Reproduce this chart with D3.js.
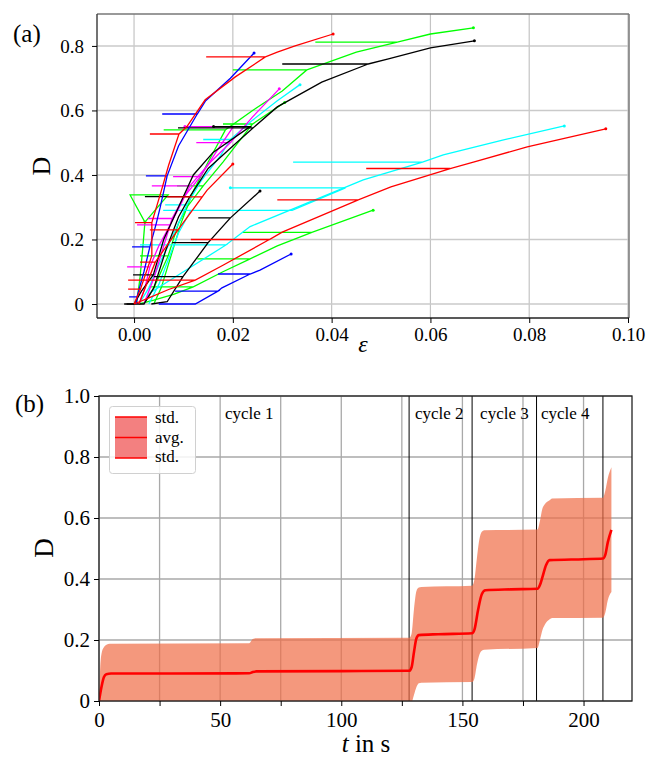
<!DOCTYPE html>
<html>
<head>
<meta charset="utf-8">
<style>
  body { margin: 0; background: #fff; }
  svg { display: block; }
  svg text { font-family: "Liberation Serif", "DejaVu Serif", serif; }
</style>
</head>
<body>
<svg width="646" height="759"></svg>
<script src="https://d3js.org/d3.v7.min.js"></script>
<script>
// ---------- panel (a): D over strain, one polyline per specimen ----------
const s01 = [[0.001,0],[0.004,0.012],[0.008,0.03],[0.012,0.053],[0.003,0.053],[0.012,0.053],[0.018,0.10],[0.0235,0.14],[0.0128,0.14],[0.0235,0.14],[0.029,0.18],[0.036,0.222],[0.022,0.222],[0.036,0.222],[0.0484,0.291]];
const s02 = [[0.004,0],[0.0055,0.05],[0.0075,0.15],[0.0095,0.25],[0.012,0.35],[0.015,0.44],[0.0185,0.54],[0.006,0.54],[0.0185,0.54],[0.024,0.60],[0.030,0.66],[0.035,0.726],[0.020,0.726],[0.035,0.726],[0.045,0.781],[0.0533,0.812],[0.0367,0.812],[0.0533,0.812],[0.060,0.837],[0.0687,0.856]];
const s03 = [[0.002,0],[0.004,0.05],[0.0069,0.149],[0.0012,0.149],[0.0069,0.149],[0.009,0.25],[0.0107,0.30],[0.014,0.366],[0.0087,0.366],[0.014,0.366],[0.018,0.44],[0.024,0.558],[0.018,0.558],[0.024,0.558],[0.0305,0.625]];
const s04 = [[0.0005,0],[0.0012,0.08],[0.0018,0.18],[0.0022,0.254],[-0.0008,0.338],[0.0069,0.338],[0.0022,0.254]];
const s05 = [[0.002,0],[0.0032,0.034],[0.010,0.10],[0.0186,0.183],[0.0012,0.183],[0.0186,0.183],[0.0235,0.24],[0.035,0.313],[0.0464,0.385],[0.0584,0.44],[0.0322,0.44],[0.0584,0.44],[0.0626,0.462],[0.0746,0.508],[0.0871,0.552]];
const s06 = [[0.003,0],[0.005,0.06],[0.007,0.14],[0.009,0.22],[0.0115,0.29],[0.0059,0.29],[0.032,0.29],[0.0428,0.36],[0.0195,0.36]];
const s07 = [[0.001,0],[0.003,0.05],[0.005,0.12],[0.0075,0.2],[0.0107,0.307],[0.0063,0.307],[0.0107,0.307],[0.0135,0.38],[0.0175,0.46],[0.0195,0.51],[0.014,0.51],[0.0195,0.51],[0.024,0.57],[0.029,0.63],[0.0336,0.68]];
const s08 = [[0.001,0],[0.0022,0.05],[0.0032,0.115],[-0.0014,0.115],[0.0032,0.115],[0.005,0.18],[0.0073,0.245],[0.0006,0.245],[0.0073,0.245],[0.0095,0.31],[0.0113,0.366],[0.0036,0.366],[0.0113,0.366],[0.0155,0.44],[0.0195,0.50],[0.0126,0.50],[0.0195,0.50],[0.024,0.58],[0.0294,0.667]];
const s09 = [[0.002,0],[0.004,0.08],[0.006,0.18],[0.0077,0.265],[0.0028,0.265],[0.0077,0.265],[0.010,0.33],[0.0134,0.395],[0.0079,0.395],[0.0134,0.395],[0.017,0.48],[0.0201,0.55],[0.0103,0.55]];
const s10 = [[-0.002,0],[0.002,0],[0.004,0.05],[0.0065,0.17],[0.009,0.27],[0.0113,0.333],[0.0022,0.333],[0.0113,0.333],[0.015,0.42],[0.020,0.49],[0.0241,0.546],[0.0089,0.546],[0.0241,0.546],[0.029,0.611],[0.038,0.688],[0.0474,0.744],[0.030,0.744],[0.0474,0.744],[0.0515,0.76],[0.060,0.794],[0.0689,0.816]];
const s11 = [[0.0035,0],[0.0067,0.007],[0.0099,0.085],[0.004,0.085],[0.0099,0.085],[0.015,0.19],[0.0077,0.19],[0.015,0.19],[0.0195,0.267],[0.013,0.267],[0.0195,0.267],[0.0255,0.35]];
const s12 = [[-0.0015,0],[0.0,0],[0.0015,0.04],[0.0039,0.09],[-0.0002,0.09],[0.0039,0.09],[0.006,0.2],[0.009,0.3],[0.012,0.4],[0.016,0.47],[0.0235,0.55],[0.0161,0.55]];
const s13 = [[0.0005,0],[0.0006,0.022],[-0.001,0.022],[0.0006,0.022],[0.002,0.10],[0.0032,0.177],[-0.0004,0.177],[0.0032,0.177],[0.0045,0.25],[0.0053,0.30],[0.0067,0.397],[0.0024,0.397],[0.0067,0.397],[0.009,0.49],[0.0128,0.589],[0.0057,0.589],[0.0128,0.589],[0.0145,0.63],[0.0195,0.70],[0.0243,0.778]];
const s14 = [[0.005,0],[0.0124,0],[0.017,0.04],[0.0083,0.04],[0.017,0.04],[0.0178,0.05],[0.0235,0.093],[0.017,0.093],[0.0235,0.093],[0.0255,0.105],[0.0318,0.155]];
const s15 = [[0.000,0],[0.0013,0.046],[-0.0012,0.046],[0.0013,0.046],[0.0036,0.15],[0.0036,0.252],[0.0002,0.252],[0.0036,0.252],[0.0055,0.35],[0.007,0.43],[0.0091,0.527],[0.0032,0.527],[0.0091,0.527],[0.0107,0.55],[0.0144,0.633],[0.0205,0.704],[0.0266,0.766],[0.0146,0.766],[0.0266,0.766],[0.029,0.781],[0.0326,0.80],[0.0403,0.837]];
const s16 = [[0.000,0],[0.003,0.019],[0.007,0.045],[0.0124,0.074],[-0.0012,0.074],[0.0124,0.074],[0.018,0.12],[0.0274,0.2],[0.0115,0.2],[0.0274,0.2],[0.030,0.223],[0.038,0.275],[0.0454,0.323],[0.029,0.323],[0.0454,0.323],[0.052,0.363],[0.064,0.42],[0.047,0.42],[0.064,0.42],[0.0687,0.44],[0.0796,0.487],[0.0955,0.543]];
const s17 = [[0.001,0],[0.0025,0.06],[0.0043,0.13],[0.0012,0.13],[0.0043,0.13],[0.0089,0.23],[0.0032,0.23],[0.0089,0.23],[0.0138,0.332],[0.0067,0.332],[0.0138,0.332],[0.0148,0.353],[0.020,0.434]];

const specimens = [s01, s02, s03, s04, s05, s06, s07, s08, s09, s10, s11, s12, s13, s14, s15, s16, s17];
const specimenColors = ["#00ff00","#00ff00","#00ff00","#00ff00","#00ffff","#00ffff","#00ffff",
  "#ff00ff","#ff00ff","#000000","#000000","#000000","#0000ff","#0000ff","#ff0000","#ff0000","#ff0000"];

const epsTicks = [0, 0.02, 0.04, 0.06, 0.08, 0.10];
const dTicksA = [0, 0.2, 0.4, 0.6, 0.8];

// ---------- panel (b): average and std band over time ----------
const tAvg = [0, 1, 2, 3, 5, 30, 62, 63.5, 65, 100, 128, 129, 130, 131, 132, 140, 154, 155, 156.5, 158, 159.5, 170, 181, 182, 183, 184.5, 186, 200, 208, 209, 210, 211.5];
const dAvg = [0, 0.045, 0.078, 0.088, 0.09, 0.09, 0.091, 0.095, 0.097, 0.098, 0.099, 0.11, 0.16, 0.205, 0.216, 0.219, 0.222, 0.235, 0.3, 0.35, 0.363, 0.366, 0.368, 0.38, 0.405, 0.445, 0.462, 0.465, 0.467, 0.48, 0.52, 0.561];
const tBand = [0, 0.7, 1.7, 3.8, 5, 62, 63.5, 65, 128, 129, 130, 131, 132, 133, 154, 155, 156, 157, 158, 159, 181, 182, 183, 184, 186, 187, 208, 209, 210, 211.5];
const dUpper = [0, 0.134, 0.172, 0.187, 0.188, 0.189, 0.203, 0.206, 0.207, 0.22, 0.3, 0.36, 0.372, 0.374, 0.378, 0.4, 0.47, 0.53, 0.555, 0.56, 0.562, 0.59, 0.63, 0.645, 0.658, 0.664, 0.666, 0.69, 0.73, 0.766];
const dLower = [0, -0.008, -0.01, -0.008, -0.006, -0.006, -0.008, -0.01, -0.01, -0.005, 0.02, 0.045, 0.058, 0.06, 0.062, 0.075, 0.12, 0.152, 0.165, 0.168, 0.174, 0.2, 0.232, 0.25, 0.268, 0.272, 0.273, 0.29, 0.33, 0.357];
const cycleEnds = [128, 154, 180.6, 208];
const cycleLabels = ["cycle 1", "cycle 2", "cycle 3", "cycle 4"];
const cycleLabelT = [52, 130.4, 157.3, 182.4];
const tMajor = [0, 50, 100, 150, 200];
const tMinor = [25, 75, 125, 175];
const dTicksB = [0, 0.2, 0.4, 0.6, 0.8, 1.0];
const legendLabels = ["std.", "avg.", "std."];

const svg = d3.select("svg");
const serif = '"Liberation Serif", "DejaVu Serif", serif';
const fmtD = d => d === 0 ? "0" : d3.format(".1f")(d);

function styleAxis(a, size) {
  a.attr("font-family", null).attr("font-size", null);
  a.select(".domain").remove();
  a.selectAll("text").style("font-family", serif).style("font-size", size + "px").attr("fill", "#000");
  a.selectAll("line").attr("stroke", "#000");
}

// ======================= panel (a) =======================
const xa = d3.scaleLinear().domain([-0.0075, 0.1002]).range([97, 629]);
const ya = d3.scaleLinear().domain([-0.0434, 0.899]).range([318, 14]);

svg.append("defs").append("clipPath").attr("id", "clipA")
  .append("rect").attr("x", 97).attr("y", 14).attr("width", 532).attr("height", 304);

const ga = svg.append("g");
ga.append("g").selectAll("line").data(epsTicks).join("line")
  .attr("x1", d => xa(d)).attr("x2", d => xa(d)).attr("y1", 14).attr("y2", 318)
  .attr("stroke", "#c4c4c4").attr("stroke-width", 1.2);
ga.append("g").selectAll("line").data(dTicksA).join("line")
  .attr("y1", d => ya(d)).attr("y2", d => ya(d)).attr("x1", 97).attr("x2", 629)
  .attr("stroke", "#cacaca").attr("stroke-width", 1.4);

const lineA = d3.line().x(d => xa(d[0])).y(d => ya(d[1]));
const curves = ga.append("g").attr("clip-path", "url(#clipA)");
specimens.forEach((pts, i) => {
  curves.append("path").attr("d", lineA(pts))
    .attr("fill", "none").attr("stroke", specimenColors[i])
    .attr("stroke-width", 1.3).attr("stroke-linejoin", "miter");
  const last = pts[pts.length - 1];
  curves.append("circle").attr("cx", xa(last[0])).attr("cy", ya(last[1]))
    .attr("r", 1.5).attr("fill", specimenColors[i]);
});

// spines
ga.append("line").attr("x1", 97).attr("x2", 629).attr("y1", 14).attr("y2", 14).attr("stroke", "#777").attr("stroke-width", 1.5);
ga.append("line").attr("x1", 629).attr("x2", 629).attr("y1", 14).attr("y2", 318).attr("stroke", "#777").attr("stroke-width", 1.5);
ga.append("line").attr("x1", 97).attr("x2", 97).attr("y1", 14).attr("y2", 318).attr("stroke", "#444").attr("stroke-width", 1.5);
ga.append("line").attr("x1", 97).attr("x2", 629).attr("y1", 318).attr("y2", 318).attr("stroke", "#222").attr("stroke-width", 1.5);

const axA = ga.append("g").attr("transform", "translate(0,318)")
  .call(d3.axisBottom(xa).tickValues(epsTicks).tickFormat(d3.format(".2f")).tickSize(5).tickPadding(5));
const ayA = ga.append("g").attr("transform", "translate(97,0)")
  .call(d3.axisLeft(ya).tickValues(dTicksA).tickFormat(fmtD).tickSize(5).tickPadding(8));
styleAxis(axA, 19);
styleAxis(ayA, 19);

ga.append("text").attr("x", 13).attr("y", 42).style("font-size", "25px").text("(a)");
ga.append("text").attr("transform", "translate(50,166) rotate(-90)")
  .attr("text-anchor", "middle").style("font-size", "26px").text("D");
ga.append("text").attr("x", 363).attr("y", 352).attr("text-anchor", "middle")
  .style("font-size", "24px").attr("font-style", "italic").text("ε");

// ======================= panel (b) =======================
const xb = d3.scaleLinear().domain([0, 220]).range([99, 632]);
const yb = d3.scaleLinear().domain([0, 1]).range([701, 396]);

svg.select("defs").append("clipPath").attr("id", "clipB")
  .append("rect").attr("x", 99).attr("y", 396).attr("width", 533).attr("height", 305);

const gb = svg.append("g");
gb.append("g").selectAll("line").data(tMajor.concat(tMinor)).join("line")
  .attr("x1", d => xb(d)).attr("x2", d => xb(d)).attr("y1", 396).attr("y2", 701)
  .attr("stroke", "#a9a9a9").attr("stroke-width", 1.3);
gb.append("g").selectAll("line").data(dTicksB).join("line")
  .attr("y1", d => yb(d)).attr("y2", d => yb(d)).attr("x1", 99).attr("x2", 632)
  .attr("stroke", "#a9a9a9").attr("stroke-width", 1.3);

gb.append("g").selectAll("line").data(cycleEnds).join("line")
  .attr("x1", d => xb(d)).attr("x2", d => xb(d)).attr("y1", 396).attr("y2", 701)
  .attr("stroke", "#000").attr("stroke-width", 1);

const band = tBand.map((t, i) => ({ t, lo: dLower[i], hi: dUpper[i] }));
const area = d3.area().curve(d3.curveMonotoneX)
  .x(d => xb(d.t)).y0(d => yb(d.lo)).y1(d => yb(d.hi));
const plotB = gb.append("g").attr("clip-path", "url(#clipB)");
plotB.append("path").attr("d", area(band))
  .attr("fill", "rgb(240,108,70)").attr("fill-opacity", 0.7);

const avg = tAvg.map((t, i) => [t, dAvg[i]]);
plotB.append("path")
  .attr("d", d3.line().curve(d3.curveMonotoneX).x(d => xb(d[0])).y(d => yb(d[1]))(avg))
  .attr("fill", "none").attr("stroke", "#ff0000").attr("stroke-width", 2.6);

gb.selectAll(".cyc").data(cycleLabels).join("text")
  .attr("x", (d, i) => xb(cycleLabelT[i])).attr("y", 419)
  .style("font-size", "17px").text(d => d);

// legend
const lg = gb.append("g");
lg.append("rect").attr("x", 109.5).attr("y", 406.5).attr("width", 86).attr("height", 67)
  .attr("rx", 3).attr("fill", "#fff").attr("fill-opacity", 0.85).attr("stroke", "#d0d0d0");
lg.append("rect").attr("x", 115).attr("y", 417).attr("width", 32).attr("height", 41)
  .attr("fill", "#f38080");
[417, 437.5, 458].forEach(y => lg.append("line").attr("x1", 115).attr("x2", 147)
  .attr("y1", y).attr("y2", y).attr("stroke", "#ff0000").attr("stroke-width", 1.5));
lg.selectAll(".lt").data(legendLabels).join("text")
  .attr("x", 155).attr("y", (d, i) => 423 + i * 19.5).style("font-size", "17px").text(d => d);

// spines
gb.append("rect").attr("x", 99).attr("y", 396).attr("width", 533).attr("height", 305)
  .attr("fill", "none").attr("stroke", "#222").attr("stroke-width", 1.3);

const axB = gb.append("g").attr("transform", "translate(0,701)")
  .call(d3.axisBottom(xb).tickValues(tMajor).tickFormat(d3.format("d")).tickSize(5).tickPadding(6));
const axBm = gb.append("g").attr("transform", "translate(0,701)")
  .call(d3.axisBottom(xb).tickValues(tMinor).tickFormat("").tickSize(5));
const ayB = gb.append("g").attr("transform", "translate(99,0)")
  .call(d3.axisLeft(yb).tickValues(dTicksB).tickFormat(fmtD).tickSize(5).tickPadding(4));
styleAxis(axB, 21);
styleAxis(axBm, 21);
styleAxis(ayB, 21);

gb.append("text").attr("x", 15).attr("y", 412).style("font-size", "25px").text("(b)");
gb.append("text").attr("transform", "translate(53,548) rotate(-90)")
  .attr("text-anchor", "middle").style("font-size", "27px").text("D");
const xl = gb.append("text").attr("x", 366).attr("y", 752).attr("text-anchor", "middle").style("font-size", "25px");
xl.append("tspan").attr("font-style", "italic").text("t");
xl.append("tspan").text(" in s");
</script>
</body>
</html>
